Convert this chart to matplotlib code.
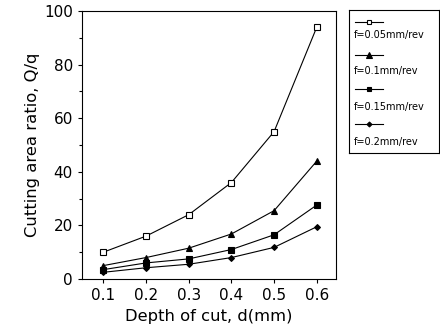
import matplotlib
matplotlib.use("Agg")
import matplotlib.pyplot as plt
from matplotlib.ticker import MultipleLocator

plt.rcParams['font.family'] = ['DejaVu Sans']

# depth of cut values
depth = [0.1, 0.2, 0.3, 0.4, 0.5, 0.6]

# cutting area ratio for each feed
f005 = [10, 16, 24, 36, 55, 94]
f01 = [5, 8, 11.5, 16.8, 25.5, 44]
f015 = [3.5, 6, 7.5, 11, 16.5, 27.6]
f02 = [2.5, 4.2, 5.5, 8, 11.8, 19.5]

labels = ['f=0.05mm/rev', 'f=0.1mm/rev', 'f=0.15mm/rev', 'f=0.2mm/rev']
series = [f005, f01, f015, f02]
markers = ['s', '^', 's', 'D']
faces = ['white', 'black', 'black', 'black']
msizes = [4, 5, 4, 3]

fig = plt.figure(figsize=(4.4, 3.31), dpi=100)
ax = fig.add_axes([82 / 440, 1 - 279 / 331, (336 - 82) / 440, (279 - 11) / 331])

for y, m, fc, ms in zip(series, markers, faces, msizes):
    ax.plot(depth, y, color='black', lw=0.8, marker=m, markerfacecolor=fc,
            markeredgecolor='black', markersize=ms, markeredgewidth=0.8)

ax.set_xlim(0.05, 0.645)
ax.set_ylim(0, 100)
ax.set_xticks(depth)
ax.set_xticklabels(['0.1', '0.2', '0.3', '0.4', '0.5', '0.6'])
ax.set_yticks([0, 20, 40, 60, 80, 100])
ax.yaxis.set_minor_locator(MultipleLocator(10))
ax.tick_params(axis='both', which='major', labelsize=11, length=3, width=0.8)
ax.tick_params(axis='y', which='minor', length=2, width=0.8)
ax.set_xlabel('Depth of cut, d(mm)', fontsize=11.8, labelpad=4)
ax.set_ylabel('Cutting area ratio, Q/q', fontsize=11.8, labelpad=3)
for s in ax.spines.values():
    s.set_linewidth(0.8)

# legend box drawn as its own axes, handle above each label
lax = fig.add_axes([349 / 440, 1 - 153 / 331, (439 - 349) / 440, (153 - 10) / 331])
lax.set_xlim(0, 90)
lax.set_ylim(143, 0)
lax.set_xticks([])
lax.set_yticks([])
for s in lax.spines.values():
    s.set_linewidth(0.8)
handle_y = [12, 45, 79, 114]
text_y = [25, 61, 97, 132]
for i in range(len(labels)):
    hy = handle_y[i]
    lax.plot([6, 34], [hy, hy], color='black', lw=0.8)
    lax.plot([20], [hy], marker=markers[i], markerfacecolor=faces[i],
             markeredgecolor='black', markersize=msizes[i] - 0.5, markeredgewidth=0.8)
    lax.text(5, text_y[i], labels[i], fontsize=7, va='center', ha='left')

fig.savefig('out.png', dpi=100)
